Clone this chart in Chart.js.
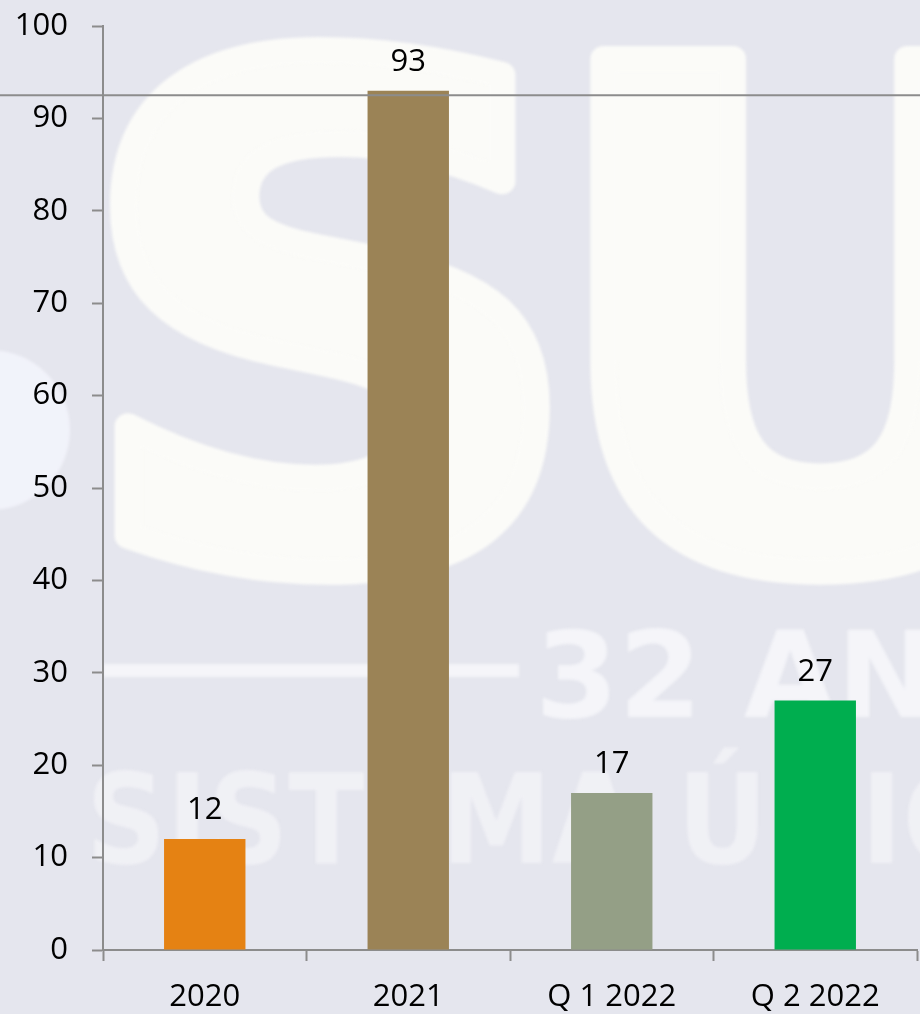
<!DOCTYPE html>
<html>
<head>
<meta charset="utf-8">
<script src="https://cdn.jsdelivr.net/npm/chart.js@4"></script>
<style>
    html, body { margin: 0; padding: 0; background: #e5e6ee; }
    #wrap { width: 920px; height: 1014px; position: relative; }
</style>
</head>
<body>
<div id="wrap"><canvas id="chart"></canvas></div>
<script>
"use strict";

// data
const categories = ['2020', '2021', 'Q 1 2022', 'Q 2 2022'];
const values = [12, 93, 17, 27];
const barColors = ['#e58213', '#9b8356', '#949f86', '#00ae4f'];
const refLineValue = 92.5;   // thin gray line across the slide
const yTicks = [0, 10, 20, 30, 40, 50, 60, 70, 80, 90, 100];

const axisGray = '#8c8c8c';
const fontFamily = "'Open Sans', Lato, 'Liberation Sans', sans-serif";
const markFont = "'DejaVu Sans', sans-serif";

// faint slide watermark behind the chart
const watermark = {
    id: 'watermark',
    beforeDraw(chart) {
        const ctx = chart.ctx;
        ctx.save();
        ctx.fillStyle = '#e5e6ee';
        ctx.fillRect(0, 0, chart.width, chart.height);
        ctx.filter = 'blur(1.5px)';
        // left blob
        ctx.fillStyle = 'rgba(246,248,255,0.7)';
        ctx.beginPath();
        ctx.arc(-10, 430, 80, 0, Math.PI * 2);
        ctx.fill();

        // big "SU"
        ctx.fillStyle = '#fbfbf8';
        ctx.strokeStyle = '#fbfbf8';
        ctx.lineJoin = 'round';
        ctx.lineWidth = 26;
        ctx.font = 'bold 690px ' + markFont;
        ctx.textBaseline = 'alphabetic';
        ctx.save();
        ctx.translate(72, 562);
        ctx.scale(1.04, 1);
        ctx.fillText('S', 0, 0);
        ctx.strokeText('S', 0, 0);
        ctx.restore();
        ctx.save();
        ctx.translate(540, 562);
        ctx.fillText('U', 0, 0);
        ctx.strokeText('U', 0, 0);
        ctx.restore();

        // "—— 32 ANOS"
        ctx.fillStyle = 'rgba(250,250,252,0.75)';
        ctx.fillRect(103, 664, 416, 13);
        ctx.font = 'bold 120px ' + markFont;
        ctx.fillText('32 ANOS', 535, 717);

        // "SISTEMA ÚNICO"
        ctx.fillStyle = 'rgba(250,250,252,0.55)';
        ctx.save();
        ctx.translate(86, 863);
        ctx.scale(0.9, 1);
        ctx.font = 'bold 124px ' + markFont;
        ctx.fillText('SISTEMA ÚNICO', 0, 0);
        ctx.restore();
        ctx.restore();
    }
};

// line across full width + value labels on top of bars
const overlay = {
    id: 'overlay',
    afterDraw(chart) {
        const ctx = chart.ctx;
        const y = chart.scales.y.getPixelForValue(refLineValue);
        ctx.save();
        ctx.strokeStyle = axisGray;
        ctx.lineWidth = 2;
        ctx.beginPath();
        ctx.moveTo(0, y);
        ctx.lineTo(chart.width, y);
        ctx.stroke();

        ctx.fillStyle = '#000';
        ctx.font = '31px ' + fontFamily;
        ctx.textAlign = 'center';
        ctx.textBaseline = 'alphabetic';
        chart.getDatasetMeta(0).data.forEach((bar, i) => {
            ctx.fillText(String(values[i]), bar.x, bar.y - 20);
        });
        ctx.restore();
    }
};

new Chart(document.getElementById('chart'), {
    type: 'bar',
    data: {
        labels: categories,
        datasets: [{
            data: values,
            backgroundColor: barColors,
            borderWidth: 0,
            categoryPercentage: 0.8,
            barPercentage: 0.5
        }]
    },
    options: {
        responsive: true,
        maintainAspectRatio: false,
        animation: false,
        layout: { padding: { top: 26, right: 3, left: 0, bottom: 0 } },
        plugins: {
            legend: { display: false },
            tooltip: { enabled: false }
        },
        scales: {
            x: {
                offset: true,
                grid: {
                    offset: true,
                    drawOnChartArea: false,
                    drawTicks: true,
                    tickLength: 11,
                    tickWidth: 2,
                    tickColor: axisGray
                },
                border: { display: true, color: axisGray, width: 2 },
                ticks: {
                    color: '#000',
                    padding: 18,
                    maxRotation: 0,
                    font: { family: fontFamily, size: 31 }
                },
                afterFit(scale) {
                    scale.height = 64;
                    scale.paddingLeft = 0;
                    scale.paddingRight = 0;
                }
            },
            y: {
                min: 0,
                max: 100,
                afterBuildTicks(scale) { scale.ticks = yTicks.map(v => ({ value: v })); },
                grid: {
                    drawOnChartArea: false,
                    drawTicks: true,
                    tickLength: 11,
                    tickWidth: 2,
                    tickColor: axisGray
                },
                border: { display: true, color: axisGray, width: 2 },
                ticks: {
                    color: '#000',
                    padding: 24,
                    font: { family: fontFamily, size: 31 }
                },
                afterFit(scale) {
                    scale.width = 103;
                    scale.paddingTop = 0;
                    scale.paddingBottom = 0;
                }
            }
        }
    },
    plugins: [watermark, overlay]
});
</script>
</body>
</html>
